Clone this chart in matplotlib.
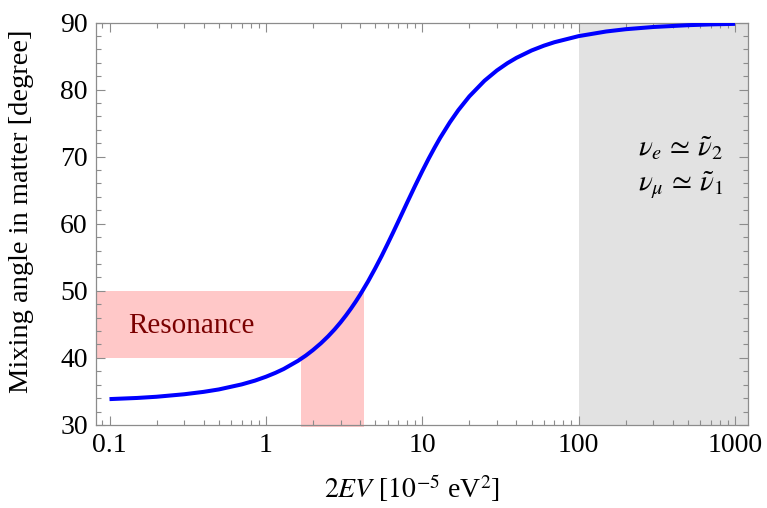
import matplotlib
matplotlib.use("Agg")
import matplotlib.pyplot as plt
from matplotlib.ticker import LogLocator, FixedLocator, MultipleLocator, FuncFormatter

plt.rcParams['font.family'] = ['Liberation Serif', 'DejaVu Serif']
plt.rcParams['mathtext.fontset'] = 'stix'

# 2EV in 1e-5 eV^2 and the mixing angle (degrees)
ev = [0.1, 0.15, 0.2, 0.3, 0.4, 0.5, 0.7, 0.85, 1.0, 1.15, 1.3, 1.6, 1.8, 2.0,
      2.25, 2.5, 2.75, 3.0, 3.25, 3.5, 3.75, 4.0, 4.5, 5.0, 5.5, 6.0, 6.5,
      7.0, 7.5, 8.0, 9.0, 10, 11, 12, 13, 15, 17, 20, 25, 30, 35, 40, 50,
      60, 70, 100, 150, 200, 300, 500, 700, 1000]
angle = [33.86, 34.03, 34.21, 34.58, 34.94, 35.30, 36.05, 36.61, 37.19, 37.77,
         38.35, 39.55, 40.35, 41.17, 42.19, 43.22, 44.25, 45.29, 46.33, 47.36,
         48.38, 49.40, 51.40, 53.35, 55.20, 56.99, 58.67, 60.26, 61.75, 63.15,
         65.66, 67.84, 69.73, 71.36, 72.79, 75.11, 76.93, 78.99, 81.32, 82.85,
         83.93, 84.73, 85.83, 86.55, 87.06, 87.97, 88.66, 89.00, 89.33, 89.60,
         89.72, 89.80]

xlim = [0.082, 1210]
ylim = [30, 90]
res_x = [1.68, 4.25]     # resonance range in 2EV
res_y = [40, 50]         # resonance range in angle
adiabatic_x = 100        # grey region starts here

fig = plt.figure(figsize=(7.67, 5.08), dpi=100)
ax = fig.add_axes([0.1252, 0.1634, 0.8500, 0.7923])

ax.axvspan(adiabatic_x, xlim[1], color='#e2e2e2', lw=0, zorder=0)
ax.fill_between([xlim[0], res_x[1]], res_y[0], res_y[1], color='#ffc8c8', lw=0, zorder=1)
ax.fill_between([res_x[0], res_x[1]], ylim[0] - 0.3, res_y[0], color='#ffc8c8', lw=0, zorder=1,
                clip_on=False)

ax.plot(ev, angle, color='#0000ff', lw=2.9, zorder=3, solid_capstyle='butt')

ax.text(0.132, 44.7, 'Resonance', color='#7a0000', fontsize=21, va='center', ha='left')
ax.text(0.962, 0.687, r'$\nu_e \,\simeq\, \tilde{\nu}_2$', transform=ax.transAxes,
        fontsize=21, ha='right', va='center')
ax.text(0.962, 0.596, r'$\nu_\mu \,\simeq\, \tilde{\nu}_1$', transform=ax.transAxes,
        fontsize=21, ha='right', va='center')

ax.set_xscale('log')
ax.set_xlim(xlim)
ax.set_ylim(ylim)
ax.xaxis.set_major_locator(FixedLocator([0.1, 1, 10, 100, 1000]))
ax.xaxis.set_major_formatter(FuncFormatter(lambda v, p: '%g' % v))
ax.xaxis.set_minor_locator(LogLocator(base=10, subs=range(2, 10)))
ax.xaxis.set_minor_formatter(FuncFormatter(lambda v, p: ''))
ax.yaxis.set_major_locator(MultipleLocator(10))
ax.yaxis.set_minor_locator(MultipleLocator(2))

for s in ax.spines.values():
    s.set_color('#8c8c8c')
    s.set_linewidth(0.9)
ax.tick_params(which='both', direction='in', top=True, right=True, color='#8c8c8c',
               labelsize=20, width=0.8)
ax.tick_params(which='major', length=6.5, pad=6)
ax.tick_params(which='minor', length=3.3)

ax.set_xlabel(r'$2EV$ [$10^{-5}$ eV$^2$]', fontsize=20)
ax.set_ylabel('Mixing angle in matter [degree]', fontsize=20.5)
ax.xaxis.set_label_coords(0.485, -0.118)
ax.yaxis.set_label_coords(-0.095, 0.53)

fig.savefig('out.png', dpi=100)
